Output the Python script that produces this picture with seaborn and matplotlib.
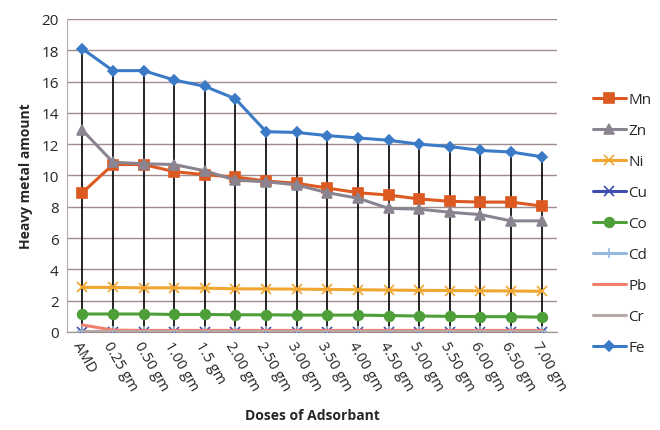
import pandas as pd
import matplotlib
matplotlib.use("Agg")
import matplotlib.pyplot as plt
import seaborn as sns

# doses (x categories)
doses = ["AMD", "0.25 gm", "0.50 gm", "1.00 gm", "1.5 gm", "2.00 gm", "2.50 gm", "3.00 gm",
         "3.50 gm", "4.00 gm", "4.50 gm", "5.00 gm", "5.50 gm", "6.00 gm", "6.50 gm", "7.00 gm"]

# metal values
mn = [8.9, 10.7, 10.7, 10.25, 10.05, 9.9, 9.65, 9.5, 9.2, 8.9, 8.75, 8.5, 8.35, 8.3, 8.3, 8.05]
zn = [12.9, 10.85, 10.75, 10.7, 10.3, 9.7, 9.6, 9.4, 8.9, 8.55, 7.9, 7.85, 7.65, 7.5, 7.1, 7.1]
ni = [2.85, 2.85, 2.82, 2.82, 2.8, 2.76, 2.75, 2.74, 2.72, 2.7, 2.68, 2.66, 2.65, 2.63, 2.62, 2.6]
cu = [0.02] * 16
co = [1.15, 1.15, 1.15, 1.12, 1.12, 1.1, 1.1, 1.08, 1.08, 1.08, 1.05, 1.02, 1.0, 0.98, 0.98, 0.95]
cd = [0.05] * 16
pb = [0.45, 0.12, 0.1, 0.1, 0.1, 0.1, 0.1, 0.1, 0.1, 0.1, 0.1, 0.1, 0.1, 0.1, 0.1, 0.1]
cr = [0.06] * 16
fe = [18.1, 16.7, 16.7, 16.1, 15.7, 14.9, 12.8, 12.75, 12.55, 12.4, 12.25, 12.0, 11.85, 11.6, 11.5, 11.2]

metals = ["Mn", "Zn", "Ni", "Cu", "Co", "Cd", "Pb", "Cr", "Fe"]
values = [mn, zn, ni, cu, co, cd, pb, cr, fe]
colors = ["#DC5A22", "#8A8490", "#F0A630", "#3F4DB0", "#4E9E3A", "#96B8E0", "#F0806C", "#B8A8A8", "#3B7AC6"]
markers = ["s", "^", "x", "x", "o", "+", "", "", "D"]
msizes = [6.5, 6.5, 6.5, 6.5, 7, 6.5, 0, 0, 5]

sns.set_style("white")
plt.rcParams["font.family"] = ["Open Sans", "DejaVu Sans"]

fig = plt.figure(figsize=(6.6, 4.31), dpi=100)
ax = fig.add_axes([0.1015, 0.2274, 0.7425, 0.7262])

x = list(range(len(doses)))

# drop lines from the top series down to zero
ax.vlines(x, 0, fe, color="black", linewidth=1.2, zorder=2)

for name, vals, c, m, ms in zip(metals, values, colors, markers, msizes):
    df = pd.DataFrame({"x": x, "y": vals})
    sns.lineplot(data=df, x="x", y="y", ax=ax, color=c, marker=m if m else None,
                 markersize=ms, markeredgecolor=c, markeredgewidth=1.2,
                 linewidth=2.2, label=name, zorder=3)

ax.set_xlim(-0.5, 15.5)
ax.set_ylim(0, 20)
ax.set_yticks(range(0, 21, 2))
ax.set_xticks(x)
ax.set_xticklabels(doses, rotation=-60, ha="left", va="top", rotation_mode="anchor", fontsize=10.5)
ax.tick_params(axis="y", labelsize=11, length=0, pad=6)
ax.tick_params(axis="x", length=0, pad=5)
ax.yaxis.grid(True, color="#A08C8C", linewidth=1)
ax.set_axisbelow(True)
for s in ["top", "right"]:
    ax.spines[s].set_visible(False)
ax.spines["left"].set_color("#B8A8A8")
ax.spines["bottom"].set_color("#A08C8C")

ax.set_xlabel("Doses of Adsorbant", fontsize=10, fontweight="bold", labelpad=10)
ax.set_ylabel("Heavy metal amount", fontsize=10, fontweight="bold", labelpad=6)

h, l = ax.get_legend_handles_labels()
ax.get_legend().remove()
fig.legend(h, l, loc="center left", bbox_to_anchor=(0.898, 0.479), frameon=False,
           fontsize=11, labelspacing=1.05, handlelength=2.2, handletextpad=0.15,
           borderaxespad=0, borderpad=0)

fig.savefig("out.png", dpi=100)
